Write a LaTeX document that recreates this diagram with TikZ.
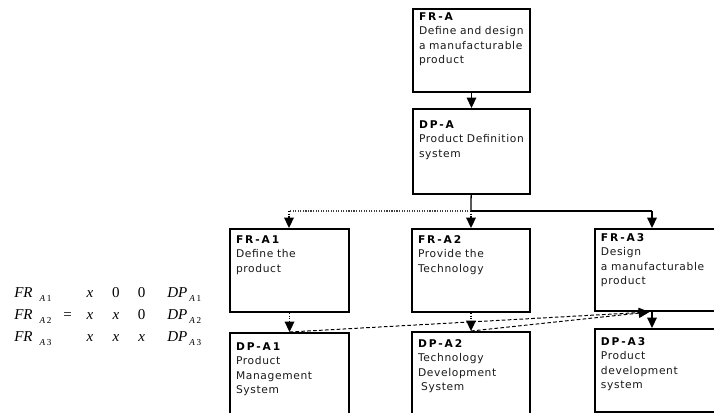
\documentclass[tikz,border=0pt]{standalone}
\usepackage{fontspec}
\newfontfamily\boxfont[LetterSpace=6]{DejaVu Sans}
\newfontfamily\headfont[LetterSpace=18]{DejaVu Sans Bold}
\newfontfamily\eqfont{Liberation Serif}
\usetikzlibrary{arrows.meta}

% index of FR / DP in the design matrix
\newcommand\subA[2][5pt]{\hspace{#1}\raisebox{-3pt}{\fontsize{6.5}{7}\selectfont\itshape A\upshape\,#2}}
% box header
\newcommand\head[1]{{\headfont\color{black}#1}}

\begin{document}
\begin{tikzpicture}[
        cell/.style={draw=black, line width=1.3pt, rectangle, anchor=north, inner xsep=0.15cm, inner ysep=0pt,
            align=left, text=black!90, font=\boxfont\fontsize{7.6}{10}\selectfont},
        eqn/.style={inner sep=0pt, align=center, anchor=base, font=\eqfont\fontsize{10.7}{15.65}\selectfont},
        arrow/.style={-{Triangle[length=0.26cm, width=0.24cm]}, line width=0.9pt, draw=black},
        link/.style={line width=0.9pt, draw=black},
        dotlink/.style={densely dotted, line width=0.8pt, draw=black!75},
        dotarrow/.style={arrow, densely dotted, line width=1pt},
        dasharrow/.style={arrow, dash pattern=on 2.6pt off 1.6pt, line width=0.7pt}
    ]
        \useasboundingbox (0,0) rectangle (17.85,-10.3);

        % --- top level ---
        \node[cell, minimum width=2.925cm, text width=2.625cm, text height=0.3cm, text depth=1.775cm]
            (fra) at (11.7875, -0.2) {\head{FR-A}\\Define and design\\a manufacturable\\product};
        \node[cell, minimum width=2.925cm, text width=2.625cm, text height=0.5cm, text depth=1.625cm]
            (dpa) at (11.7875, -2.7) {\head{DP-A}\\Product Definition\\system};
        \draw[arrow] (fra) -- (dpa);

        % --- branching ---
        \coordinate (split) at (11.775, -5.275);
        \coordinate (lft)   at (7.225, -5.275);
        \coordinate (rgt)   at (16.3, -5.275);
        \draw[link] (dpa) -- (split);
        \draw[link] (split) -- (rgt);
        \draw[dotlink] (split) -- (lft);

        % --- second level FRs ---
        \node[cell, minimum width=2.975cm, text width=2.675cm, text height=0.375cm, text depth=1.7cm]
            (fra1) at (7.2375, -5.7) {\head{FR-A1}\\Define the\\product};
        \node[cell, minimum width=2.95cm, text width=2.65cm, text height=0.375cm, text depth=1.7cm]
            (fra2) at (11.775, -5.7) {\head{FR-A2}\\Provide the\\Technology};
        \node[cell, anchor=north west, minimum width=3.2cm, text width=2.9cm, text height=0.325cm, text depth=1.725cm]
            (fra3) at (14.85, -5.7) {\head{FR-A3}\\Design\\a manufacturable\\product};

        \draw[dotarrow] (lft) -- (lft |- fra1.north);
        \draw[dotarrow] (split) -- (fra2.north);
        \draw[arrow] (rgt) -- (rgt |- fra3.north);

        % --- second level DPs ---
        \node[cell, minimum width=2.975cm, text width=2.675cm, text height=0.45cm, text depth=2.55cm]
            (dpa1) at (7.2375, -8.3) {\head{DP-A1}\\Product\\Management\\System};
        \node[cell, minimum width=2.95cm, text width=2.65cm, text height=0.4cm, text depth=2.6cm]
            (dpa2) at (11.775, -8.275) {\head{DP-A2}\\Technology\\Development\\\hspace*{0.3em}System};
        \node[cell, anchor=north west, minimum width=3.2cm, text width=2.9cm, text height=0.425cm, text depth=1.65cm]
            (dpa3) at (14.85, -8.2) {\head{DP-A3}\\Product\\development\\system};

        \draw[dotarrow] (fra1) -- (dpa1);
        \draw[dotarrow] (fra2) -- (dpa2);
        \draw[arrow] (rgt |- fra3.south) -- (rgt |- dpa3.north);

        % --- coupling ---
        \coordinate (tip) at (16.23, -7.8);
        \draw[dasharrow] (dpa1.north) -- (tip);
        \draw[dasharrow] (dpa2.north) -- (tip);

        % --- design matrix (base = last row) ---
        \node[eqn, anchor=base west, align=left] (frcol) at (0.35, -8.525)
            {\itshape FR\subA{1}\\\itshape FR\subA{2}\\\itshape FR\subA{3}};
        \node[eqn] (eqsign) at (1.69, -7.975) {=};
        \node[eqn] (col1) at (2.25, -8.525) {\itshape x\\\itshape x\\\itshape x};
        \node[eqn] (col2) at (2.9, -8.525) {0\\\itshape x\\\itshape x};
        \node[eqn] (col3) at (3.54, -8.525) {0\\0\\\itshape x};
        \node[eqn, anchor=base west, align=left] (dpcol) at (4.175, -8.525)
            {\itshape DP\subA[1.5pt]{1}\\\itshape DP\subA[1.5pt]{2}\\\itshape DP\subA[1.5pt]{3}};

\end{tikzpicture}
\end{document}
